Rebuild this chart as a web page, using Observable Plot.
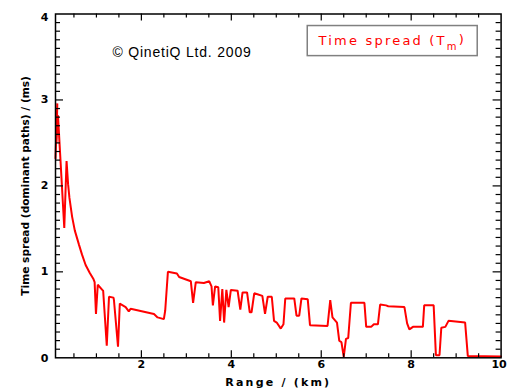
<!DOCTYPE html>
<html>
<head>
<meta charset="utf-8">
<script src="https://cdn.jsdelivr.net/npm/d3@7"></script>
<script src="https://cdn.jsdelivr.net/npm/@observablehq/plot@0.6"></script>
<style>
  html, body { margin: 0; padding: 0; background: white; }
  #chart svg { display: block; }
</style>
</head>
<body>
<div id="chart"></div>
<script>
// Range (km) of each sample along the curve
const rangeKm = [
  0.09, 0.13, 0.11, 0.145, 0.285, 0.336, 0.37, 0.40, 0.46, 0.52, 0.61, 0.68, 0.76, 0.85, 0.93,
  0.96, 0.99, 1.03, 1.13, 1.15, 1.23, 1.28, 1.38, 1.39, 1.48, 1.52, 1.65, 1.72, 1.76,
  2.28, 2.36, 2.50, 2.53, 2.59, 2.79, 2.84, 3.10, 3.15, 3.21, 3.39, 3.51, 3.56, 3.59,
  3.64, 3.71, 3.75, 3.80, 3.84, 3.89, 3.94, 3.99, 4.14, 4.20, 4.25, 4.35, 4.41, 4.45,
  4.51, 4.58, 4.69, 4.75, 4.81, 4.90, 4.95, 5.01, 5.10, 5.16, 5.20, 5.40, 5.45, 5.51,
  5.56, 5.70, 5.75, 6.14, 6.20, 6.25, 6.35, 6.40, 6.45, 6.50, 6.55, 6.60, 6.66, 6.96,
  7.00, 7.11, 7.17, 7.26, 7.31, 7.44, 7.49, 7.85, 7.91, 7.96, 8.04, 8.26, 8.29, 8.50,
  8.55, 8.63, 8.67, 8.76, 8.83, 9.20, 9.26, 10.0
];
// Time spread of dominant paths (ms)
const spreadMs = [
  2.32, 2.96, 2.50, 2.82, 1.51, 2.29, 2.02, 1.86, 1.64, 1.48, 1.32, 1.20, 1.08, 0.99, 0.92,
  0.88, 0.51, 0.85, 0.79, 0.78, 0.14, 0.71, 0.70, 0.67, 0.13, 0.63, 0.59, 0.54, 0.57,
  0.51, 0.47, 0.45, 0.55, 1.00, 0.98, 0.94, 0.89, 0.64, 0.88, 0.87, 0.89, 0.83, 0.61,
  0.83, 0.82, 0.43, 0.80, 0.41, 0.79, 0.59, 0.79, 0.78, 0.56, 0.76, 0.76, 0.53, 0.53,
  0.75, 0.74, 0.72, 0.51, 0.71, 0.71, 0.43, 0.41, 0.34, 0.39, 0.69, 0.69, 0.49, 0.49,
  0.69, 0.68, 0.38, 0.37, 0.67, 0.47, 0.41, 0.20, 0.18, 0.01, 0.22, 0.23, 0.64, 0.64,
  0.36, 0.36, 0.39, 0.39, 0.62, 0.61, 0.60, 0.59, 0.40, 0.33, 0.36, 0.36, 0.61, 0.61,
  0.03, 0.03, 0.35, 0.36, 0.43, 0.41, 0.02, 0.015
];

const xTickLabels = [2, 4, 6, 8, 10];
const xMajorTicks = [2, 4, 6, 8];
const xMinorTicks = [0.5, 1, 1.5, 2.5, 3, 3.5, 4.5, 5, 5.5, 6.5, 7, 7.5, 8.5, 9, 9.5];
const yTickLabels = [0, 1, 2, 3, 4];
const yMajorTicks = [1, 2, 3];
const yMinorTicks = d3.range(1, 40).filter(i => i % 10 !== 0).map(i => i / 10);

const xTitle = "Range / (km)";
const yTitle = "Time spread (dominant paths) / (ms)";
const seriesName = "Time spread (Tm)";
const copyright = "© QinetiQ Ltd. 2009";

const data = rangeKm.map((r, i) => ({range: r, spread: spreadMs[i]}));

const W = 507, H = 389;
const mL = 55, mR = 6.4, mT = 13.5, mB = 31.7;
const fh = H - mT - mB, fw = W - mL - mR;

const svg = Plot.plot({
  width: W,
  height: H,
  marginLeft: mL,
  marginRight: mR,
  marginTop: mT,
  marginBottom: mB,
  style: {fontFamily: "DejaVu Sans", fontSize: "11px", background: "white", color: "black"},
  x: {domain: [0.09, 10], axis: null},
  y: {domain: [0, 4], axis: null},
  marks: [
    // legend box
    Plot.rect([seriesName], {x1: 5.70, x2: 9.48, y1: 3.51, y2: 3.86, fill: "white", stroke: "#808080", strokeWidth: 1.5}),
    Plot.text([seriesName], {x: 7.58, y: 3.685, fill: "#ff0000", fontSize: 13, textAnchor: "middle"}),
    // copyright
    Plot.text([copyright], {frameAnchor: "top-left", dx: 126.5, dy: 39, textAnchor: "middle", lineAnchor: "middle", fontFamily: "Liberation Sans", fontSize: 14, fill: "black"}),
    // data line
    Plot.line(data, {x: "range", y: "spread", stroke: "#ff0000", strokeWidth: 2, strokeLinejoin: "miter"}),
    // inward ticks: bottom
    Plot.tickX(xMajorTicks, {x: d => d, insetTop: fh - 7, stroke: "black", strokeWidth: 1.2}),
    Plot.tickX(xMinorTicks, {x: d => d, insetTop: fh - 4, stroke: "black", strokeWidth: 1.2}),
    // top
    Plot.tickX(xMajorTicks, {x: d => d, insetBottom: fh - 7, stroke: "black", strokeWidth: 1.2}),
    Plot.tickX(xMinorTicks, {x: d => d, insetBottom: fh - 4, stroke: "black", strokeWidth: 1.2}),
    // left
    Plot.tickY(yMajorTicks, {y: d => d, insetRight: fw - 8, stroke: "black", strokeWidth: 1.2}),
    Plot.tickY(yMinorTicks, {y: d => d, insetRight: fw - 5, stroke: "black", strokeWidth: 1.2}),
    // right
    Plot.tickY(yMajorTicks, {y: d => d, insetLeft: fw - 8, stroke: "black", strokeWidth: 1.2}),
    Plot.tickY(yMinorTicks, {y: d => d, insetLeft: fw - 5, stroke: "black", strokeWidth: 1.2}),
    // frame
    Plot.frame({stroke: "black", strokeWidth: 1.5}),
    // tick labels
    Plot.axisX(xTickLabels, {anchor: "bottom", tickSize: 0, tickPadding: 2, tickFormat: d => String(d), fontSize: 11, fontWeight: "bold", label: null}),
    Plot.axisY(yTickLabels, {anchor: "left", tickSize: 0, tickPadding: 7, tickFormat: d => String(d), fontSize: 11, fontWeight: "bold", label: null}),
    // axis titles
    Plot.text([xTitle], {frameAnchor: "bottom", dy: 25, fontSize: 11, fontWeight: "bold", textAnchor: "middle", lineAnchor: "middle"}),
    Plot.text([yTitle], {frameAnchor: "left", dx: -30, rotate: -90, fontSize: 10.6, fontWeight: "bold", textAnchor: "middle", lineAnchor: "middle"})
  ]
});

// text styling tweaks: letter spacing, subscript, clamped edge labels
const ns = "http://www.w3.org/2000/svg";
svg.querySelectorAll("text").forEach(t => {
  const s = t.textContent;
  if (s === xTitle) {
    t.style.letterSpacing = "2.2px";
  } else if (s === copyright) {
    t.style.letterSpacing = "0.8px";
  } else if (s === seriesName) {
    t.style.letterSpacing = "2.2px";
    t.textContent = "";
    const a = document.createElementNS(ns, "tspan");
    a.textContent = "Time spread (T";
    const b = document.createElementNS(ns, "tspan");
    b.textContent = "m";
    b.setAttribute("dy", "0.45em");
    b.setAttribute("font-size", "10");
    const c = document.createElementNS(ns, "tspan");
    c.textContent = ")";
    c.setAttribute("dy", "-0.45em");
    t.append(a, b, c);
  }
});
svg.querySelectorAll('g[aria-label="x-axis tick label"] text').forEach(t => {
  if (t.textContent === "10") t.setAttribute("dx", "-2");
});
svg.querySelectorAll('g[aria-label="y-axis tick label"] text').forEach(t => {
  if (t.textContent === "4") t.setAttribute("dy", "0.32em");
  if (t.textContent === "0") t.setAttribute("dy", "0.05em");
});

document.getElementById("chart").append(svg);
</script>
</body>
</html>
